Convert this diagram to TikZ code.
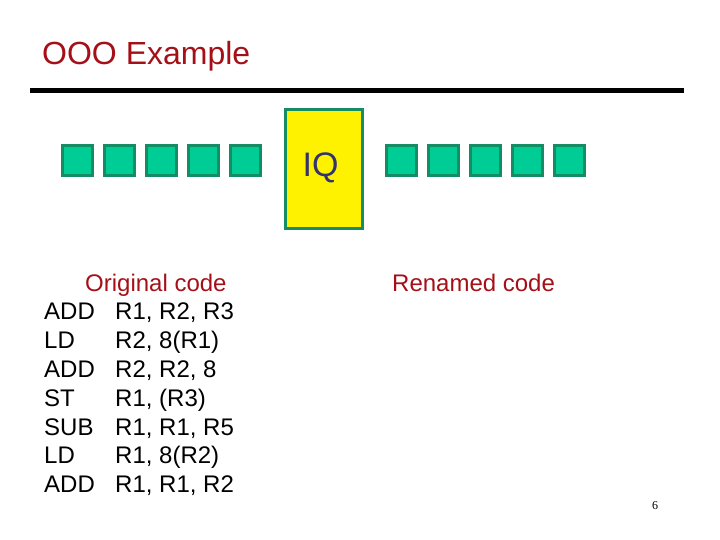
\documentclass[tikz,border=0pt]{standalone}
\usepackage{fontspec}
\setmainfont{Liberation Sans}
\newfontfamily\pagefont{Liberation Serif}
\definecolor{titlered}{RGB}{165,16,24}
\definecolor{sqfill}{RGB}{0,204,150}
\definecolor{sqline}{RGB}{20,140,100}
\definecolor{iqtext}{RGB}{51,51,110}
\tikzset{
  cell/.style={draw=sqline, fill=sqfill, line width=3pt, minimum width=30pt, minimum height=30pt, inner sep=0pt, anchor=north west},
  codetxt/.style={anchor=base west, inner sep=0pt, font=\fontsize{24}{28}\selectfont},
}
\begin{document}
\begin{tikzpicture}[x=1pt,y=-1pt]
\useasboundingbox (0,0) rectangle (720,540);
\node[anchor=base west, inner sep=0pt, text=titlered, font=\fontsize{32}{38}\selectfont] (title) at (42,65) {OOO Example};
\draw[line width=5pt] (30,90.5) coordinate (rl) -- (684,90.5) coordinate (rr);
% left squares
\foreach \i in {0,...,4} {
  \node[cell] (l\i) at ({60.5+42*\i},144.5) {};
}
% IQ box
\node[draw=sqline, fill=yellow, line width=3pt, minimum width=77pt, minimum height=119pt, inner sep=0pt, anchor=north west] (iq) at (283.5,108.5) {};
\node[text=iqtext, font=\fontsize{34}{40}\selectfont, inner sep=0pt] (iqlabel) at (320.5,168) {IQ};
% right squares
\foreach \i in {0,...,4} {
  \node[cell] (r\i) at ({384.5+42*\i},144.5) {};
}
% code
\node[codetxt, text=titlered] (orig) at (85,291) {Original code};
\node[codetxt, text=titlered] (ren) at (392,291) {Renamed code};
\foreach \op/\args [count=\k] in {ADD/{R1, R2, R3}, LD/{R2, 8(R1)}, ADD/{R2, R2, 8}, ST/{R1, (R3)}, SUB/{R1, R1, R5}, LD/{R1, 8(R2)}, ADD/{R1, R1, R2}} {
  \node[codetxt] (op\k) at (44,{291+28.8*\k}) {\op};
  \node[codetxt] (arg\k) at (115,{291+28.8*\k}) {\args};
}
\node[anchor=base, inner sep=0pt, font=\pagefont\fontsize{12}{14}\selectfont] (pg) at (655,509) {6};
\end{tikzpicture}
\end{document}
